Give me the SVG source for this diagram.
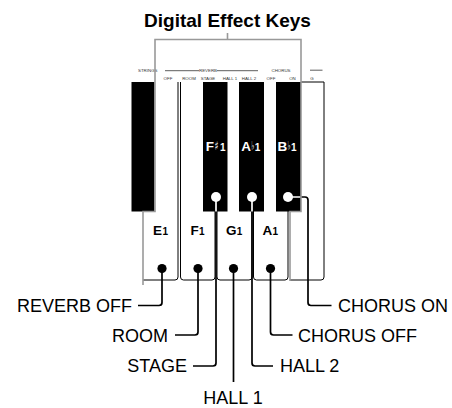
<svg xmlns="http://www.w3.org/2000/svg" width="452" height="408" viewBox="0 0 452 408">
<style>
.t{font-family:"Liberation Sans",Arial,sans-serif;fill:#000}
.title{font-size:19px;font-weight:bold}
.lbl{font-size:18px}
.sm{font-family:"Liberation Sans",Arial,sans-serif;font-size:4.4px;fill:#333}
.kl{font-family:"Liberation Sans",Arial,sans-serif;font-weight:bold;font-size:13.5px}
.kn{font-size:10px}
.acc{font-family:"DejaVu Sans",sans-serif;font-size:12px;fill:#fff}
.w{fill:#fff}
.outline{fill:none;stroke:#000;stroke-width:1}
.bk{fill:#000}
.conn{fill:none;stroke:#000;stroke-width:1.7;stroke-linejoin:round}
.stem{fill:none;stroke:#fff;stroke-width:1.7}
.bracket{fill:none;stroke:#999;stroke-width:1.6}
</style>
<rect width="452" height="408" fill="#fff"/>

<text class="t title" x="227.5" y="27" text-anchor="middle">Digital Effect Keys</text>

<!-- small panel labels -->
<g id="panel-labels">
<text class="sm" x="138" y="71.5">STRINGS</text>
<path d="M165,70.7 H199 M217,70.7 H258 M310,70.2 H322.5" stroke="#333" stroke-width="0.8" fill="none"/>
<text class="sm" x="208" y="71.5" text-anchor="middle">REVERB</text>
<text class="sm" x="281" y="71.5" text-anchor="middle">CHORUS</text>
<text class="sm" x="168" y="80" text-anchor="middle">OFF</text>
<text class="sm" x="189" y="80" text-anchor="middle">ROOM</text>
<text class="sm" x="208" y="80" text-anchor="middle">STAGE</text>
<text class="sm" x="230" y="80" text-anchor="middle">HALL 1</text>
<text class="sm" x="249" y="80" text-anchor="middle">HALL 2</text>
<text class="sm" x="271" y="80" text-anchor="middle">OFF</text>
<text class="sm" x="292.5" y="80" text-anchor="middle">ON</text>
<text class="sm" x="312" y="80" text-anchor="middle">G</text>
</g>

<!-- white keys -->
<g id="key-E1"><path class="outline" d="M178,82 V277 Q178,280 175,280 H143"/>
<text class="kl" y="235"><tspan x="153">E</tspan><tspan class="kn" x="162.5">1</tspan></text></g>
<g id="key-F1"><path class="outline" d="M180.5,82 V277 Q180.5,280 183.5,280 H212 Q215,280 215,277 V211"/>
<text class="kl" y="235"><tspan x="190.5">F</tspan><tspan class="kn" x="199">1</tspan></text></g>
<g id="key-G1"><path class="outline" d="M217,211 V277 Q217,280 220,280 H249 Q252,280 252,277 V211"/>
<text class="kl" y="235"><tspan x="226">G</tspan><tspan class="kn" x="236.8">1</tspan></text></g>
<g id="key-A1"><path class="outline" d="M253.5,211 V277 Q253.5,280 256.5,280 H285 Q288,280 288,277 V211"/>
<text class="kl" y="235"><tspan x="262.5">A</tspan><tspan class="kn" x="272.5">1</tspan></text></g>
<g id="key-B1"><path class="outline" d="M290,280 H321 Q324,280 324,277 V82 H301"/></g>

<!-- connectors -->
<g id="connectors">
<path class="conn" d="M162,268.5 V302.5 Q162,305.5 159,305.5 H138"/>
<path class="conn" d="M198,268.5 V332 Q198,335 195,335 H175"/>
<path class="conn" d="M216,197 V363 Q216,366 213,366 H193"/>
<path class="conn" d="M233.5,268.5 V382"/>
<path class="conn" d="M252,197 V363 Q252,366 255,366 H273"/>
<path class="conn" d="M270.5,268.5 V332 Q270.5,335 273.5,335 H292.5"/>
<path class="conn" d="M288,197 H305 Q308,197 308,200 V302.5 Q308,305.5 311,305.5 H331.5"/>
</g>

<!-- black keys -->
<g id="key-Eb0"><rect class="bk" x="131.5" y="82" width="23" height="129.5"/></g>
<g id="key-Fs1"><rect class="bk" x="203" y="82" width="24.5" height="129.5"/>
<text class="kl w" y="151"><tspan x="205.8">F</tspan><tspan class="kn" x="220">1</tspan></text>
<text class="acc" transform="translate(214.4,150) scale(0.7,1)">♯</text></g>
<g id="key-Ab1"><rect class="bk" x="239" y="82" width="25" height="129.5"/>
<text class="kl w" y="151"><tspan x="241.2">A</tspan><tspan class="kn" x="254.8">1</tspan></text>
<text class="acc" transform="translate(251.2,150) scale(0.55,1)">♭</text></g>
<g id="key-Bb1"><rect class="bk" x="276" y="82" width="25" height="129.5"/>
<text class="kl w" y="151"><tspan x="277.4">B</tspan><tspan class="kn" x="291">1</tspan></text>
<text class="acc" transform="translate(287.4,150) scale(0.55,1)">♭</text></g>

<!-- stems inside black keys and dots -->
<g id="dots">
<path class="stem" d="M216,197 V211.5 M252,197 V211.5 M288,197 H300.5"/>
<circle cx="216" cy="197" r="5" fill="#fff"/>
<circle cx="252" cy="197" r="5" fill="#fff"/>
<circle cx="288" cy="197" r="5" fill="#fff"/>
<circle cx="162" cy="268.5" r="4.6" fill="#000"/>
<circle cx="198" cy="268.5" r="4.6" fill="#000"/>
<circle cx="233.5" cy="268.5" r="4.6" fill="#000"/>
<circle cx="270.5" cy="268.5" r="4.6" fill="#000"/>
</g>

<!-- bracket -->
<g id="bracket">
<path class="bracket" d="M143,285 V211.5 H155 V39.5 H301 V211.5 H290 V281 M227.5,33 V39.5"/>
</g>

<!-- callout labels -->
<g id="label-reverb-off"><text class="t lbl" x="132" y="312" text-anchor="end">REVERB OFF</text></g>
<g id="label-room"><text class="t lbl" x="168" y="342" text-anchor="end">ROOM</text></g>
<g id="label-stage"><text class="t lbl" x="187" y="372" text-anchor="end">STAGE</text></g>
<g id="label-hall1"><text class="t lbl" x="233" y="404" text-anchor="middle">HALL 1</text></g>
<g id="label-hall2"><text class="t lbl" x="280" y="372">HALL 2</text></g>
<g id="label-chorus-off"><text class="t lbl" x="298" y="342">CHORUS OFF</text></g>
<g id="label-chorus-on"><text class="t lbl" x="338" y="312">CHORUS ON</text></g>
</svg>
